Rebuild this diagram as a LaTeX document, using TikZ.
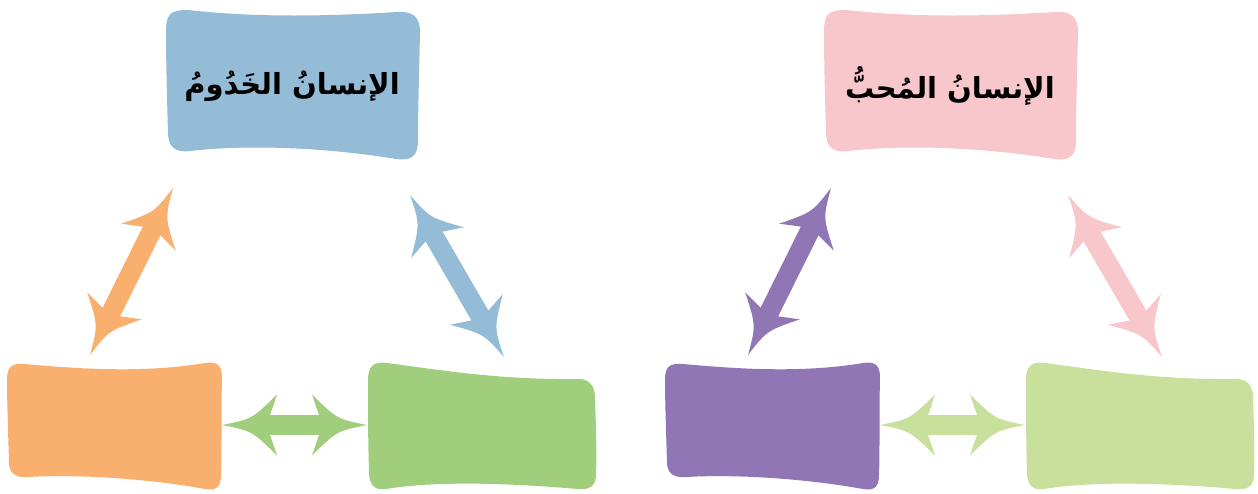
\documentclass[tikz,border=0pt]{standalone}
\usepackage{fontspec}
\newfontfamily\arabicfont[Script=Arabic]{DejaVu Sans}
\TeXXeTstate=1
\usetikzlibrary{calc}
\definecolor{cblue}{RGB}{149,188,214}
\definecolor{corange}{RGB}{249,175,110}
\definecolor{cgreen}{RGB}{160,206,124}
\definecolor{cpink}{RGB}{247,199,203}
\definecolor{cpurple}{RGB}{144,118,180}
\definecolor{clgreen}{RGB}{201,224,157}
\tikzset{titletext/.style={font=\arabicfont\bfseries\fontsize{29}{35}\selectfont, inner sep=0pt}}
% fat double-headed arrow between two named points
\newcommand\fatarrow[3]{%
  \fill[#1] (#2)
    .. controls ($(#2)!30pt!(#3)!6pt!90:(#3)$) .. ($(#2)!55pt!(#3)!30.5pt!90:(#3)$)
    -- ($(#2)!48pt!(#3)!9.8pt!90:(#3)$)
    -- ($(#3)!48pt!(#2)!-9.8pt!90:(#2)$)
    -- ($(#3)!55pt!(#2)!-30.5pt!90:(#2)$)
    .. controls ($(#3)!30pt!(#2)!-6pt!90:(#2)$) .. (#3)
    .. controls ($(#3)!30pt!(#2)!6pt!90:(#2)$) .. ($(#3)!55pt!(#2)!30.5pt!90:(#2)$)
    -- ($(#3)!48pt!(#2)!9.8pt!90:(#2)$)
    -- ($(#2)!48pt!(#3)!-9.8pt!90:(#3)$)
    -- ($(#2)!55pt!(#3)!-30.5pt!90:(#3)$)
    .. controls ($(#2)!30pt!(#3)!-6pt!90:(#3)$) .. (#2) -- cycle;}
% one half of the figure
\newcommand\halfdiagram[5]{%
  % top box
  \fill[#2] (166,32) .. controls (166,14) and (170,10) .. (188,10)
    .. controls (260,18) and (330,16) .. (398,12)
    .. controls (414,11) and (420,18) .. (420,32)
    .. controls (419,80) and (418,110) .. (418,140)
    .. controls (418,156) and (412,161) .. (396,159)
    .. controls (330,148) and (250,144) .. (190,151)
    .. controls (174,153) and (168,146) .. (168,132)
    .. controls (167,100) and (166,60) .. (166,32) -- cycle;
  % bottom left box
  \fill[#3] (7,380) .. controls (7,366) and (12,363) .. (25,364)
    .. controls (70,368) and (140,374) .. (205,363)
    .. controls (218,361) and (222,366) .. (222,378)
    .. controls (221,420) and (222,450) .. (221,475)
    .. controls (221,487) and (216,491) .. (205,489)
    .. controls (150,479) and (80,474) .. (28,477)
    .. controls (14,478) and (9,472) .. (9,462)
    .. controls (8,430) and (7,400) .. (7,380) -- cycle;
  % bottom right box
  \fill[#4] (368,380) .. controls (368,366) and (374,361) .. (387,363)
    .. controls (440,370) and (500,380) .. (578,379)
    .. controls (590,379) and (595,386) .. (595,398)
    .. controls (596,430) and (597,455) .. (596,474)
    .. controls (596,486) and (590,490) .. (578,489)
    .. controls (520,484) and (440,480) .. (386,489)
    .. controls (374,491) and (369,484) .. (369,472)
    .. controls (368,440) and (368,410) .. (368,380) -- cycle;
  \node[titletext] (#1title) at (292,86) {\beginR #5\endR};
  \coordinate (#1la) at (173,188);
  \coordinate (#1lb) at (90,355);
  \coordinate (#1ra) at (410,195);
  \coordinate (#1rb) at (504,357);
  \coordinate (#1ha) at (222,425);
  \coordinate (#1hb) at (367,425);
  \fatarrow{#3}{#1la}{#1lb}
  \fatarrow{#2}{#1ra}{#1rb}
  \fatarrow{#4}{#1ha}{#1hb}
}
\begin{document}
\begin{tikzpicture}[x=1pt,y=-1pt]
  \useasboundingbox (0,0) rectangle (1258,493);
  \begin{scope}
    \halfdiagram{L}{cblue}{corange}{cgreen}{الإنسانُ الخَدُومُ}
  \end{scope}
  \begin{scope}[xshift=658pt]
    \halfdiagram{R}{cpink}{cpurple}{clgreen}{الإنسانُ المُحبُّ}
  \end{scope}
\end{tikzpicture}
\end{document}
